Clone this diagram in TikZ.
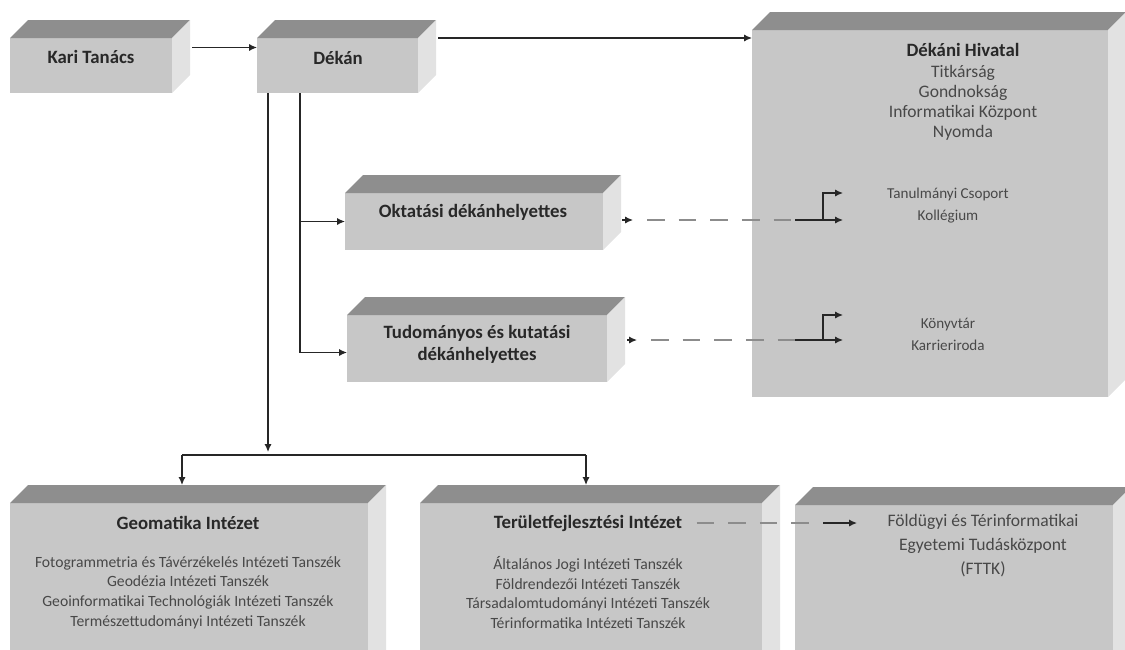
\documentclass[tikz,border=0pt]{standalone}
\usepackage{fontspec}
\setmainfont{Carlito}
\usetikzlibrary{arrows.meta, calc}
\definecolor{lapSzin}{RGB}{199,199,199}
\definecolor{tetoSzin}{RGB}{142,142,142}
\definecolor{oldalSzin}{RGB}{226,226,226}
\definecolor{szovegSzin}{RGB}{40,40,40}

% 3D box: name, centre, width, height (in px)
\newcommand{\kocka}[4]{%
  \node[lap, minimum width=#3*0.02cm, minimum height=#4*0.02cm] (#1) at (#2) {};
  \fill[tetoSzin] (#1.north west) -- ++(18,-18) -- ([shift={(18,-18)}]#1.north east) -- (#1.north east) -- cycle;
  \fill[oldalSzin] (#1.north east) -- ++(18,-18) -- ([shift={(18,-18)}]#1.south east) -- (#1.south east) -- cycle;
}

\begin{document}
\begin{tikzpicture}[x=0.02cm, y=-0.02cm,
    lap/.style={fill=lapSzin, inner sep=0pt, outer sep=0pt},
    cim/.style={font=\bfseries\fontsize{10.7}{12.5}\selectfont, text=szovegSzin, align=center, inner sep=0pt},
    lista/.style={font=\fontsize{10}{11.5}\selectfont, text=szovegSzin!85, align=center, inner sep=0pt},
    kislista/.style={lista, font=\fontsize{8.9}{11.2}\selectfont},
    nyil/.style={-{Latex[length=4.5pt,width=4pt]}, line width=0.7pt, draw=black!85},
    vonal/.style={line width=0.7pt, draw=black!85},
    szagg/.style={line width=1.1pt, draw=black!45, dash pattern=on 10pt off 8pt, dash phase=10pt}
  ]
  \clip (0,0) rectangle (1125,649);

  % boxes
  \kocka{kari}{91,65.5}{162}{55}
  \kocka{dekan}{337.5,65.5}{161}{55}
  \kocka{hivatal}{930,213.5}{356}{367}
  \kocka{oktatasi}{474,221.5}{258}{57}
  \kocka{tudomanyos}{477,348.5}{260}{67}
  \kocka{geomatika}{189,586.5}{358}{167}
  \kocka{terulet}{591,586.5}{342}{167}
  \kocka{fttk}{954,587.5}{318}{165}

  % texts
  \node[cim] (kariT) at (91,57) {Kari Tanács};
  \node[cim] (dekanT) at (338,58) {Dékán};
  \node[cim] (hivatalT) at (963,50) {Dékáni Hivatal};
  \node[lista] (hivatalL) at (963,103) {Titkárság\\Gondnokság\\Informatikai Központ\\Nyomda};
  \node[lista, font=\fontsize{8.6}{12.5}\selectfont] (tanulL) at (948,206) {Tanulmányi Csoport\\Kollégium};
  \node[lista, font=\fontsize{8.6}{12.5}\selectfont] (konyvL) at (948,334) {Könyvtár\\Karrieriroda};
  \node[cim] (oktatasiT) at (473,212) {Oktatási dékánhelyettes};
  \node[cim] (tudomanyosT) at (477,344) {Tudományos és kutatási\\dékánhelyettes};
  \node[cim] (geomatikaT) at (188,523) {Geomatika Intézet};
  \node[kislista] (geomatikaL) at (188,592.5) {Fotogrammetria és Távérzékelés Intézeti Tanszék\\Geodézia Intézeti Tanszék\\Geoinformatikai Technológiák Intézeti Tanszék\\Természettudományi Intézeti Tanszék};
  \node[cim] (teruletT) at (588,523) {Területfejlesztési Intézet};
  \node[kislista] (teruletL) at (588,592.5) {Általános Jogi Intézeti Tanszék\\Földrendezői Intézeti Tanszék\\Társadalomtudományi Intézeti Tanszék\\Térinformatika Intézeti Tanszék};
  \node[lista, font=\fontsize{10}{13.6}\selectfont] (fttkL) at (983,546) {Földügyi és Térinformatikai\\Egyetemi Tudásközpont\\(FTTK)};

  % top row
  \draw[nyil] ([shift={(20,-18)}]kari.east) -- ([shift={(0,-18)}]dekan.west);
  \draw[nyil] ([shift={(20,-27.5)}]dekan.east) coordinate (d1) -- (d1 -| hivatal.west);

  % institutes
  \coordinate (gyujto) at (268,452);
  \coordinate (gyujtoB) at (182,455);
  \coordinate (gyujtoJ) at (586,455);
  \draw[nyil] ([shift={(-69.5,0)}]dekan.south) -- (gyujto);
  \draw[vonal] (gyujtoB) -- (gyujtoJ);
  \draw[nyil] (gyujtoB) -- ($(gyujtoB |- geomatika.north)+(0,-18)$);
  \draw[nyil] (gyujtoJ) -- ($(gyujtoJ |- terulet.north)+(0,-18)$);

  % deputies
  \coordinate (helyettes) at ([shift={(-37.5,0)}]dekan.south);
  \draw[nyil] (helyettes) |- ([shift={(0,4)}]tudomanyos.west);
  \draw[nyil] (helyettes |- oktatasi.west) -- (oktatasi.west);

  % dashed links into Dekani Hivatal
  \coordinate (o1) at (633,220);
  \coordinate (o2) at (795,220);
  \coordinate (o3) at (823,220);
  \coordinate (okt1) at (843,193);
  \coordinate (okt2) at (843,220);
  \draw[nyil] ([shift={(19,-1.5)}]oktatasi.east) -- (o1);
  \draw[szagg] (o1) -- (o2);
  \draw[nyil] (o2) -- (okt2);
  \draw[nyil] (o3) |- (okt1);

  \coordinate (u1) at (637,340);
  \coordinate (u2) at (795,340);
  \coordinate (u3) at (823,340);
  \coordinate (tud1) at (843,315);
  \coordinate (tud2) at (843,340);
  \draw[nyil] ([shift={(20,-8.5)}]tudomanyos.east) -- (u1);
  \draw[szagg] (u1) -- (u2);
  \draw[nyil] (u2) -- (tud2);
  \draw[nyil] (u3) |- (tud1);

  % Teruletfejlesztesi -> FTTK
  \coordinate (f1) at (823,523);
  \coordinate (f2) at (857,523);
  \draw[szagg] (teruletT.east) -- (f1);
  \draw[nyil] (f1) -- (f2);
\end{tikzpicture}
\end{document}
